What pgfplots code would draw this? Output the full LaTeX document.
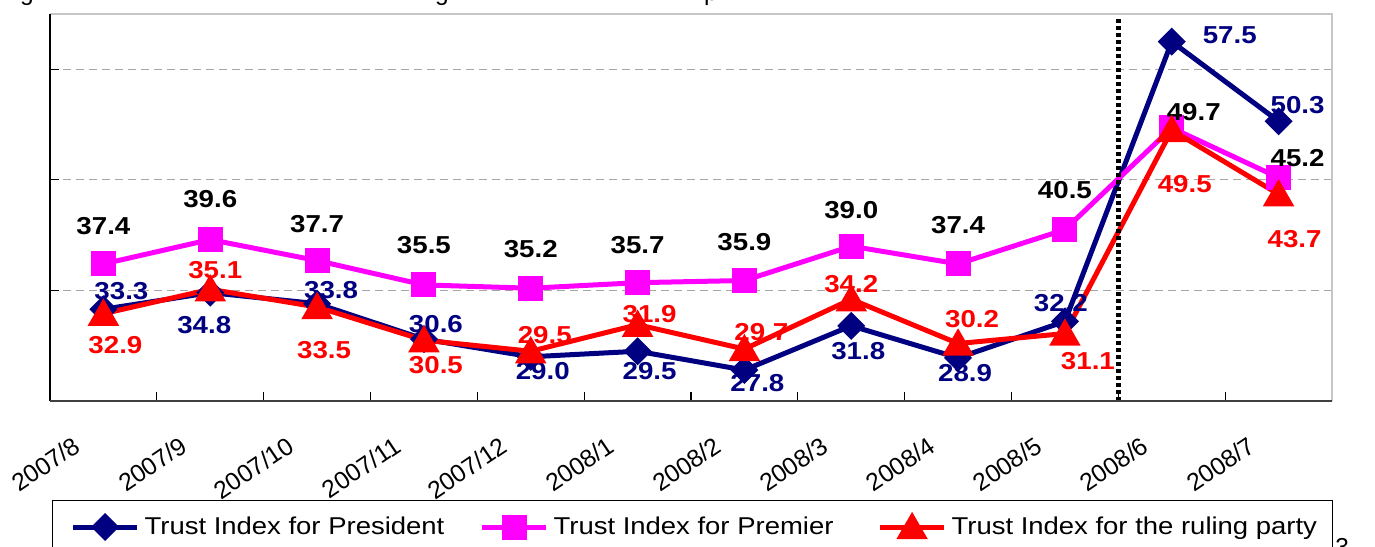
\documentclass[border=0pt]{standalone}
\usepackage{pgfplots}
\pgfplotsset{compat=1.18}
\usepackage{pgfplotstable}
\usepackage{fontspec}
\setmainfont{Liberation Sans}
\newfontfamily\widefont[FakeStretch=1.13]{Liberation Sans}
\newcommand\tlf{\fontsize{12.4}{13}\selectfont}
\definecolor{pres}{RGB}{0,0,128}
\definecolor{prem}{RGB}{255,0,255}
\definecolor{party}{RGB}{255,0,0}

% month index, value, label offset (bp, up positive)
\pgfplotstableread{
x y dx dy
0 33.3 9 9
1 34.8 -3 -16
2 33.8 7 7
3 30.6 6 7.5
4 29.0 6 -7
5 29.5 6 -10
6 27.8 6.5 -6.5
7 31.8 3.5 -12.5
8 28.9 3.5 -7.5
9 32.2 -2 9
10 57.5 29 3
11 50.3 9.5 8
}\president
\pgfplotstableread{
x y dx dy
0 37.4 0 19
1 39.6 0 20
2 37.7 0 18.5
3 35.5 0 20
4 35.2 0 19.5
5 35.7 0 19
6 35.9 0 19
7 39.0 0 18
8 37.4 0 19.5
9 40.5 0 20
10 49.7 11 8
11 45.2 9.5 10
}\premier
\pgfplotstableread{
x y dx dy
0 32.9 6 -14
1 35.1 2.5 11
2 33.5 3.5 -20
3 30.5 6 -11
4 29.5 7 9.5
5 31.9 6 7
6 29.7 8.5 10
7 34.2 0 9
8 30.2 7 13.5
9 31.1 11.5 -12.5
10 49.5 6.5 -25.5
11 43.7 8 -21
}\party

\pgfplotsset{
  vallabels/.style={
    point meta=y,
    nodes near coords={\pgfmathprintnumber[fixed,fixed zerofill,precision=1,assume math mode=true]{\pgfplotspointmeta}},
    visualization depends on={\thisrow{dx} \as \ldx},
    visualization depends on={\thisrow{dy} \as \ldy},
    every node near coord/.append style={font=\widefont\fontsize{12.3}{14}\selectfont\bfseries,
      anchor=center, inner sep=0pt, xshift=\ldx bp, yshift=\ldy bp, text=#1},
  },
}

\begin{document}
\begin{tikzpicture}
\useasboundingbox (0,0) rectangle (687.5bp,-273.5bp);
\begin{axis}[
  at={(25bp,-200.5bp)}, anchor=south west,
  scale only axis, width=641bp, height=193.5bp,
  xmin=-0.5, xmax=11.5, ymin=25, ymax=60,
  clip=false,
  axis line style={draw=none},
  xtick={-0.5,0.5,...,11.5},
  xticklabels={\tlf 2007/8,\tlf 2007/9,\tlf 2007/10,\tlf 2007/11,\tlf 2007/12,\tlf 2008/1,\tlf 2008/2,\tlf 2008/3,\tlf 2008/4,\tlf 2008/5,\tlf 2008/6,\tlf 2008/7,{}},
  ytick={35,45,55}, yticklabels={},
  ymajorgrids, grid style={gray!70, line width=0.6bp, dash pattern=on 4bp off 2.5bp},
  tick align=inside, major tick length=4.5bp,
  tick style={black, line width=0.6bp},
  xtick pos=bottom, ytick pos=left,
  xticklabel style={inner sep=0pt,
    xshift=11bp, yshift=-17bp, rotate=34, anchor=north east},
  legend columns=3,
  legend style={at={(0,0)}, anchor=north west, xshift=1bp, yshift=-49.5bp,
    draw=black, line width=0.6bp, inner xsep=9bp, inner ysep=8bp,
    font=\widefont\fontsize{12.2}{14}\selectfont,
    nodes={inner sep=0pt},
    /tikz/every even column/.style={column sep=0pt}},
  legend image code/.code={\draw[mark repeat=2,mark phase=2,#1] plot coordinates {(0bp,0bp) (16bp,0bp) (32bp,0bp)};},
]
\addplot[color=pres, line width=2.5bp, mark=square*, mark size=3.7bp,
  mark options={rotate=45, solid}, vallabels=pres] table[x=x,y=y] {\president};
\addlegendentry{\makebox[170bp][l]{\hspace{2.5bp}Trust Index for President}}
\addplot[color=prem, line width=2.5bp, mark=square*, mark size=5bp,
  vallabels=black] table[x=x,y=y] {\premier};
\addlegendentry{\makebox[164.5bp][l]{\hspace{2.5bp}Trust Index for Premier}}
\addplot[color=party, line width=2.5bp, mark=triangle*, mark size=6.6bp,
  mark options={yshift=-1.5bp}, vallabels=party] table[x=x,y=y] {\party};
\addlegendentry{\makebox[184bp][l]{\hspace{2.5bp}Trust Index for the ruling party}}
\addplot[black, line width=2.2bp, dash pattern=on 2bp off 1.5bp, forget plot]
  coordinates {(9.5,25) (9.5,59.8)};
\draw[gray!45, line width=1.2bp] (rel axis cs:0,1) -- (rel axis cs:1,1) -- (rel axis cs:1,0);
\draw[black, line width=0.7bp] (rel axis cs:0,0) -- (rel axis cs:0,1);
\draw[black!75, line width=1bp] (rel axis cs:0,0) -- (rel axis cs:1,0);
\end{axis}
\node[anchor=base, inner sep=0pt, font=\fontsize{12.3}{14}\selectfont] at (13.5bp,0bp) {g};
\node[anchor=base, inner sep=0pt, font=\fontsize{12.3}{14}\selectfont] at (221bp,0bp) {g};
\node[anchor=base, inner sep=0pt, font=\fontsize{12.3}{14}\selectfont] at (355.5bp,0bp) {p};
\node[anchor=north west, inner sep=0pt, font=\fontsize{12.3}{14}\selectfont] at (667.5bp,-269bp) {3 -};
\end{tikzpicture}
\end{document}
